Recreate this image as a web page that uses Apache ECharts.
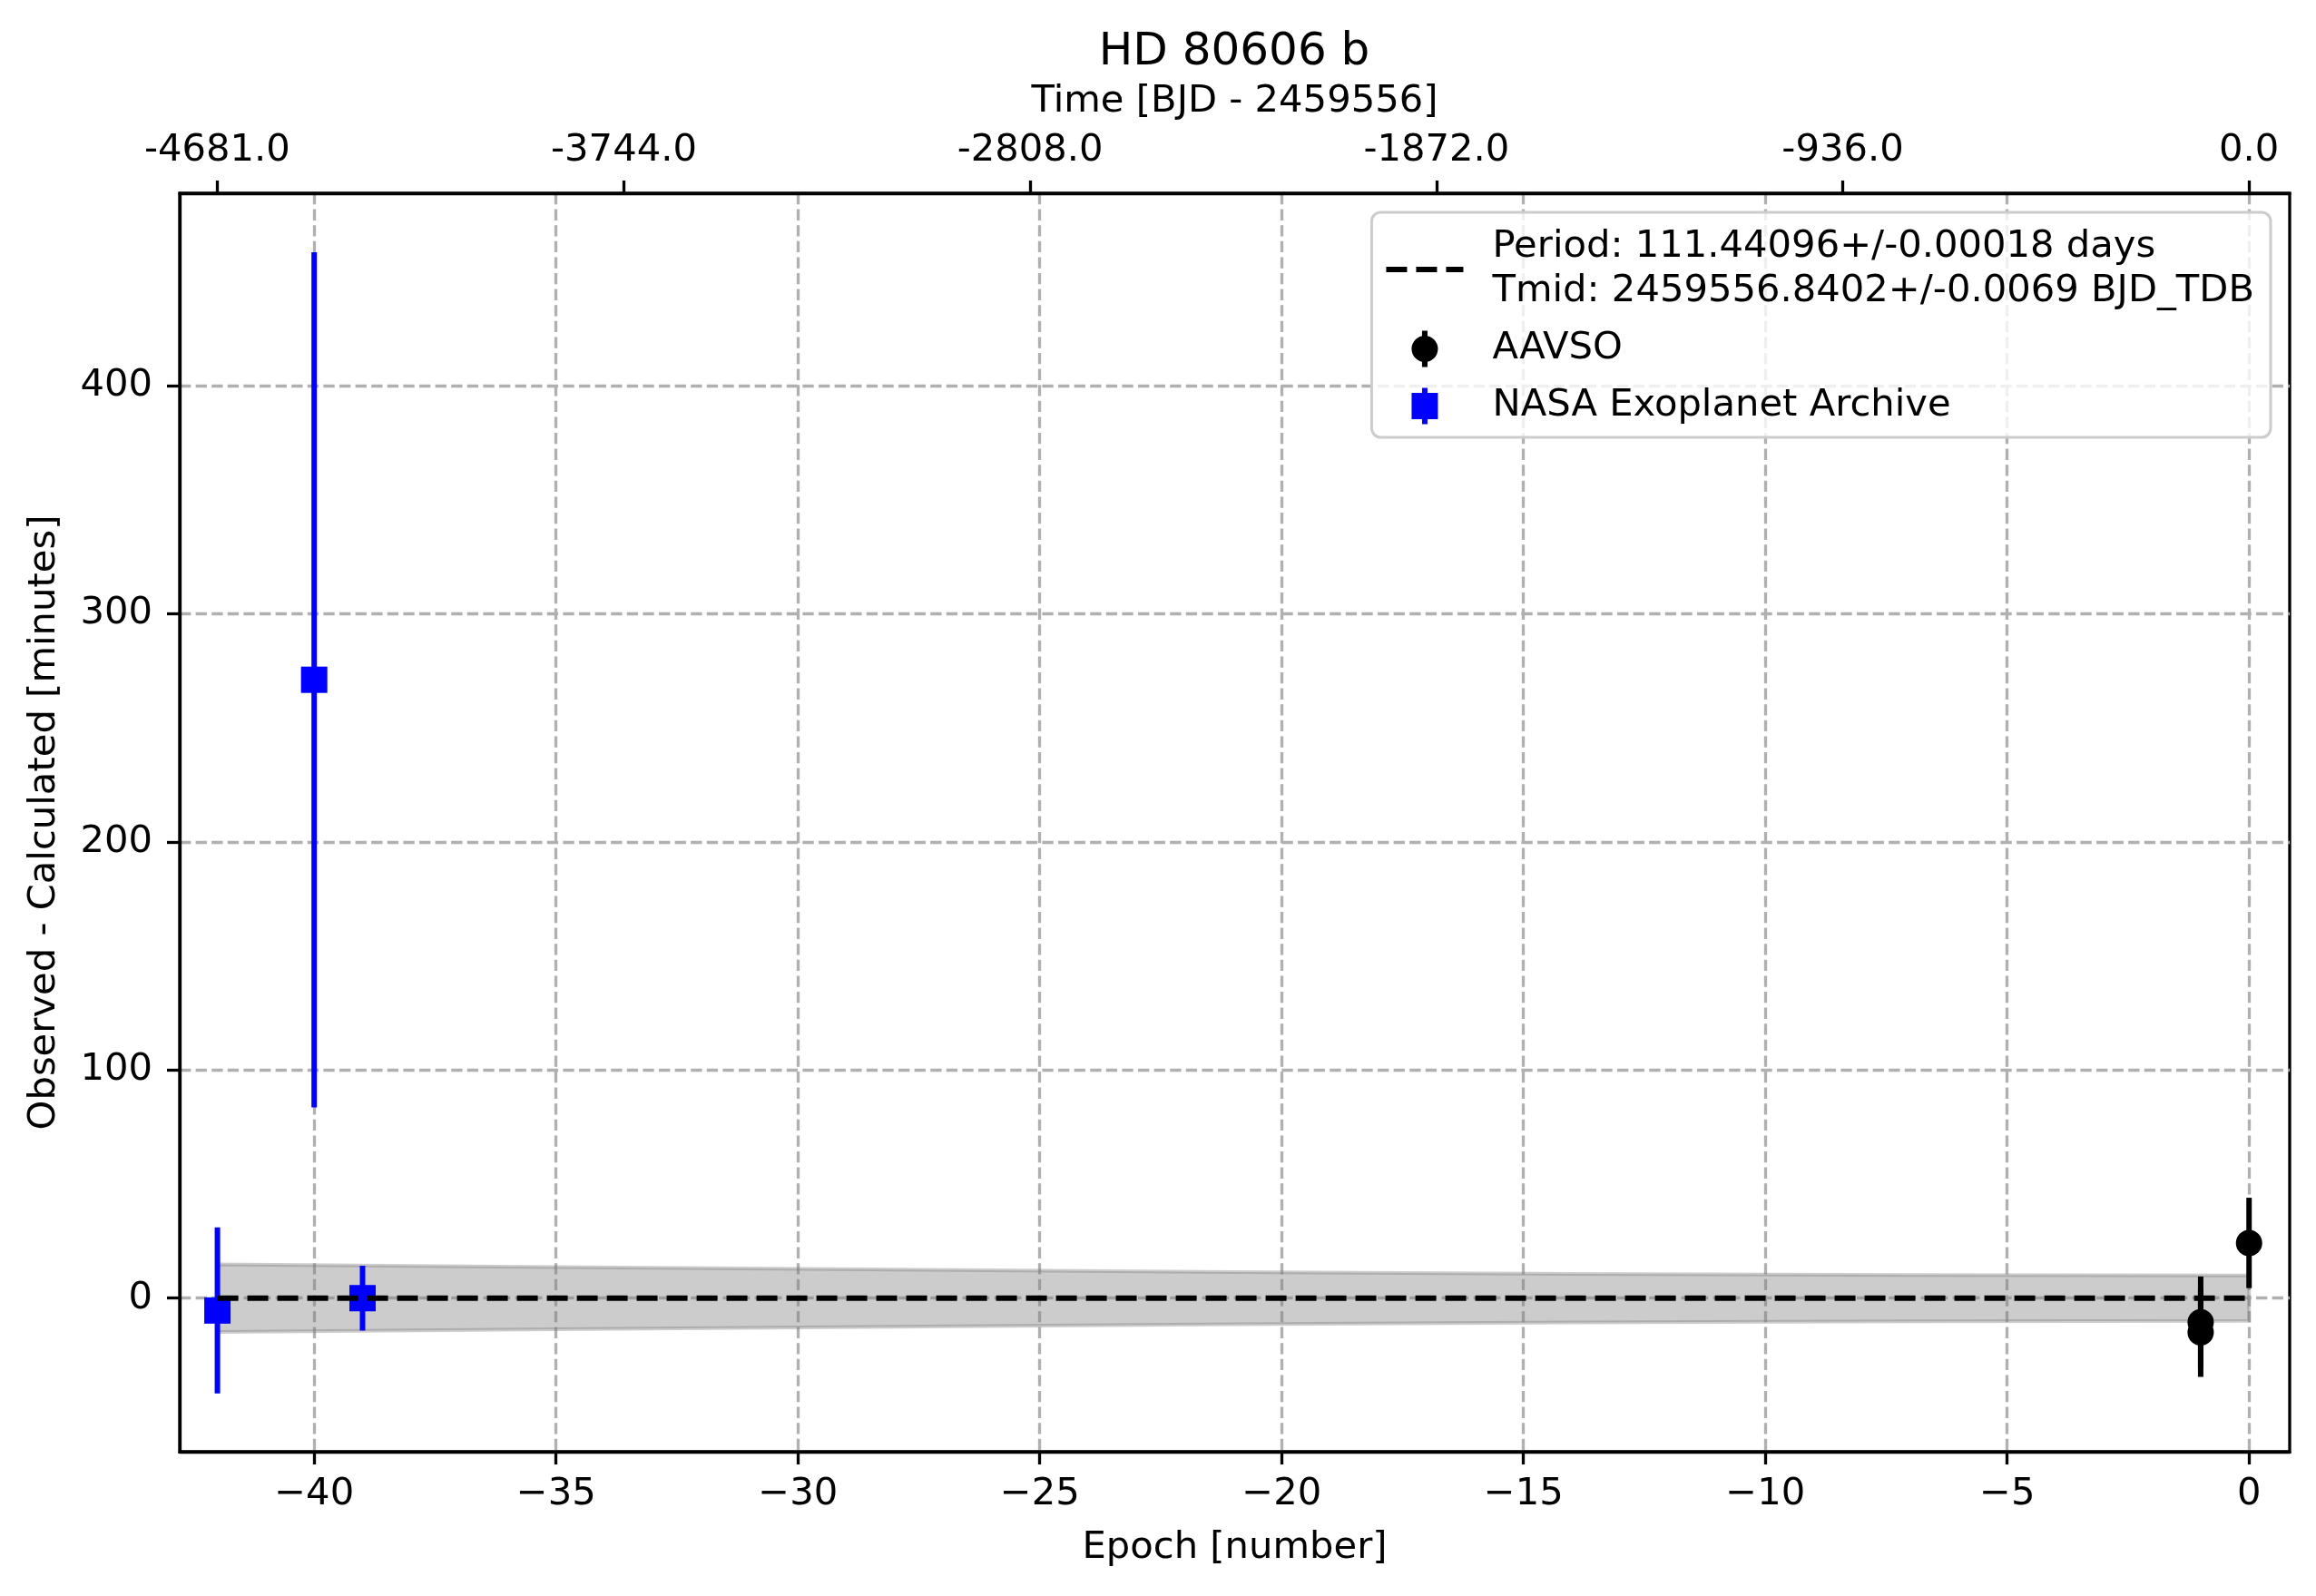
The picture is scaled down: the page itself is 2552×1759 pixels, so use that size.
<!DOCTYPE html>
<html lang="en">
<head>
    <meta charset="UTF-8">
    <title>HD 80606 b</title>
    <script type="text/javascript" src="https://cdn.jsdelivr.net/npm/echarts@6/dist/echarts.min.js"></script>
    <style>
        html, body { margin: 0; padding: 0; background: #ffffff; }
        #main { width: 2552px; height: 1759px; }
    </style>
</head>
<body>
    <div id="main"></div>
    <script type="text/javascript">

        // 数据
        var period = 111.44096;           // days per epoch, only used to scale the top axis
        var fitName = 'Period: 111.44096+/-0.00018 days\nTmid: 2459556.8402+/-0.0069 BJD_TDB';

        var aavsoEpoch = [-1, -1, 0];
        var aavsoOC = [-10.5, -15.0, 24.2];
        var aavsoErr = [20.0, 19.5, 19.8];

        var nasaEpoch = [-42, -40, -39];
        var nasaOC = [-5.4, 271.0, 0.0];
        var nasaErr = [36.4, 187.4, 14.2];

        var bandEpoch = [-42, -35, -28, -21, -14, -7, 0];
        var bandUpper = [14.8, 13.6, 12.5, 11.4, 10.6, 10.1, 9.9];
        var bandLower = [-14.8, -13.6, -12.5, -11.4, -10.6, -10.1, -9.9];

        var fitEpoch = [-42, 0];
        var fitOC = [0, 0];

        var epochTicks = [-40, -35, -30, -25, -20, -15, -10, -5, 0];
        var timeTicks = [-4681, -3744, -2808, -1872, -936, 0];
        var ocTicks = [0, 100, 200, 300, 400];

        var xMin = -42.78, xMax = 0.84;
        var yMin = -67.3, yMax = 484.2;

        var font = 'DejaVu Sans';
        var fs = 41.7;

        // 图例图标 (all 85 x 40 boxes)
        var dashIcon = 'path://M0,0M85,40M0,17h23v6h-23zM33,17h23v6h-23zM66,17h19v6h-19z';
        var circleIcon = 'path://M0,0M85,40M39.5,0h6v40h-6zM28,20a14.5,14.5 0 1,1 29,0a14.5,14.5 0 1,1 -29,0z';
        var squareIcon = 'path://M0,0M85,40M39.5,0h6v40h-6zM28,5.5h29v29h-29z';

        function pairs(xs, ys, es) {
            return xs.map(function (x, i) {
                return es ? [x, ys[i], es[i]] : [x, ys[i]];
            });
        }

        function errorBar(params, api) {
            var x = api.value(0), y = api.value(1), e = api.value(2);
            var p1 = api.coord([x, y + e]);
            var p2 = api.coord([x, y - e]);
            return {
                type: 'line',
                shape: { x1: p1[0], y1: p1[1], x2: p2[0], y2: p2[1] },
                style: { stroke: api.visual('color'), lineWidth: 6 }
            };
        }

        function band(params, api) {
            if (params.dataIndex !== 0) return null;
            var pts = [];
            for (var i = 0; i < bandEpoch.length; i++) pts.push(api.coord([bandEpoch[i], bandUpper[i]]));
            for (var j = bandEpoch.length - 1; j >= 0; j--) pts.push(api.coord([bandEpoch[j], bandLower[j]]));
            return {
                type: 'polygon',
                shape: { points: pts },
                style: { fill: 'rgba(128,128,128,0.4)', stroke: 'rgba(128,128,128,0.4)', lineWidth: 4 }
            };
        }

        var gridLine = { show: true, lineStyle: { color: '#b0b0b0', width: 3.3, type: [12.3, 5.3] } };
        var tickStyle = { color: '#000', width: 3.3 };
        var labelStyle = { fontFamily: font, fontSize: fs, color: '#000' };

        var myChart = echarts.init(document.getElementById('main'), null, { renderer: 'canvas' });

        var option = {
            animation: false,
            backgroundColor: '#ffffff',
            title: {
                text: 'HD 80606 b',
                left: 1360,
                top: 33,
                padding: 0,
                textAlign: 'center',
                textStyle: { fontFamily: font, fontSize: 50, fontWeight: 'normal', color: '#000' }
            },
            grid: {
                left: 198, right: 29, top: 213, bottom: 159,
                show: true, borderColor: '#000', borderWidth: 3.3,
                containLabel: false
            },
            legend: {
                orient: 'vertical',
                align: 'left',
                right: 50,
                top: 234,
                itemWidth: 85,
                itemHeight: 40,
                itemGap: 14,
                padding: [14, 18, 10, 16],
                backgroundColor: 'rgba(255,255,255,0.8)',
                borderColor: '#cccccc',
                borderWidth: 3,
                borderRadius: 10,
                itemStyle: { borderWidth: 0 },
                textStyle: { fontFamily: font, fontSize: fs, color: '#000', lineHeight: 49, padding: [0, 0, 0, 27] },
                data: [
                    { name: fitName, icon: dashIcon },
                    { name: 'AAVSO', icon: circleIcon },
                    { name: 'NASA Exoplanet Archive', icon: squareIcon }
                ]
            },
            xAxis: [{
                type: 'value',
                position: 'bottom',
                min: xMin, max: xMax,
                axisLine: { show: true, onZero: false, lineStyle: tickStyle },
                axisTick: { show: true, customValues: epochTicks, length: 14, lineStyle: tickStyle },
                axisLabel: {
                    customValues: epochTicks, margin: 26, fontFamily: font, fontSize: fs, color: '#000',
                    formatter: function (v) { return v < 0 ? '\u2212' + Math.abs(v) : String(v); }
                },
                splitLine: gridLine,
                name: 'Epoch [number]',
                nameLocation: 'middle',
                nameGap: 85,
                nameTextStyle: labelStyle
            }, {
                type: 'value',
                position: 'top',
                min: xMin * period, max: xMax * period,
                axisLine: { show: true, onZero: false, lineStyle: tickStyle },
                axisTick: { show: true, customValues: timeTicks, length: 14, lineStyle: tickStyle },
                axisLabel: {
                    customValues: timeTicks, margin: 26, fontFamily: font, fontSize: fs, color: '#000',
                    formatter: function (v) { return v.toFixed(1); }
                },
                splitLine: { show: false },
                name: 'Time [BJD - 2459556]',
                nameLocation: 'middle',
                nameGap: 80,
                nameTextStyle: labelStyle
            }],
            yAxis: {
                type: 'value',
                position: 'left',
                min: yMin, max: yMax,
                axisLine: { show: true, onZero: false, lineStyle: tickStyle },
                axisTick: { show: true, customValues: ocTicks, length: 14, lineStyle: tickStyle },
                axisLabel: { customValues: ocTicks, margin: 30, fontFamily: font, fontSize: fs, color: '#000' },
                splitLine: gridLine,
                name: 'Observed - Calculated [minutes]',
                nameLocation: 'middle',
                nameGap: 128,
                nameTextStyle: labelStyle
            },
            series: [{
                type: 'custom',
                renderItem: band,
                data: pairs(bandEpoch, bandUpper, bandLower),
                silent: true,
                z: 1
            }, {
                name: 'NASA Exoplanet Archive',
                type: 'scatter',
                data: pairs(nasaEpoch, nasaOC),
                symbol: 'rect',
                symbolSize: 29,
                itemStyle: { color: '#0000ff', opacity: 1 },
                z: 3
            }, {
                type: 'custom',
                renderItem: errorBar,
                data: pairs(nasaEpoch, nasaOC, nasaErr),
                itemStyle: { color: '#0000ff' },
                encode: { x: 0, y: 1 },
                z: 3
            }, {
                name: 'AAVSO',
                type: 'scatter',
                data: pairs(aavsoEpoch, aavsoOC),
                symbol: 'circle',
                symbolSize: 29,
                itemStyle: { color: '#000000', opacity: 1 },
                z: 3
            }, {
                type: 'custom',
                renderItem: errorBar,
                data: pairs(aavsoEpoch, aavsoOC, aavsoErr),
                itemStyle: { color: '#000000' },
                encode: { x: 0, y: 1 },
                z: 3
            }, {
                name: fitName,
                type: 'line',
                data: pairs(fitEpoch, fitOC),
                symbol: 'none',
                itemStyle: { color: '#000000' },
                lineStyle: { color: '#000000', width: 6, type: [23, 10] },
                z: 5
            }]
        };

        myChart.setOption(option);

    </script>
</body>
</html>
